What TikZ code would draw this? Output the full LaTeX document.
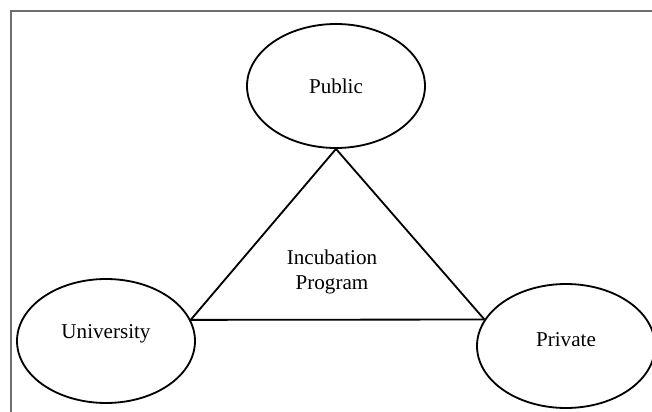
\documentclass[tikz,border=0pt]{standalone}
\usepackage{fontspec}
\setmainfont{Liberation Serif}
\usetikzlibrary{shapes.geometric}

\tikzset{
    party/.style={draw, ellipse, line width=1.3pt, minimum width=4.45cm, minimum height=3.1cm, inner sep=0pt, font=\fontsize{15}{17}\selectfont},
    side/.style={line width=1.3pt}
}

\begin{document}
\begin{tikzpicture}
    \useasboundingbox (0,0) rectangle (16.3,10.3);
    %frame
    \draw[color={rgb,255:red,110; green,110; blue,110}, line width=1.2pt] (16.3,10.025) -- (0.275,10.025) -- (0.275,0);

    %the three parties
    \node[party] (public) at (8.4,8.15) {Public};
    \node[party, text depth=0.45cm] (university) at (2.65,1.775) {University};
    \node[party, text depth=0.32cm] (private) at (14.15,1.65) {Private};

    %triangle
    \draw[side] (public.south) -- (university.14);
    \draw[side] (public.south) -- (private.162);
    \draw[side] (university.14) -- (private.162);

    \node[align=center, font=\fontsize{15}{17.5}\selectfont] (incubation) at (8.3,3.5) {Incubation\\Program};
\end{tikzpicture}
\end{document}
